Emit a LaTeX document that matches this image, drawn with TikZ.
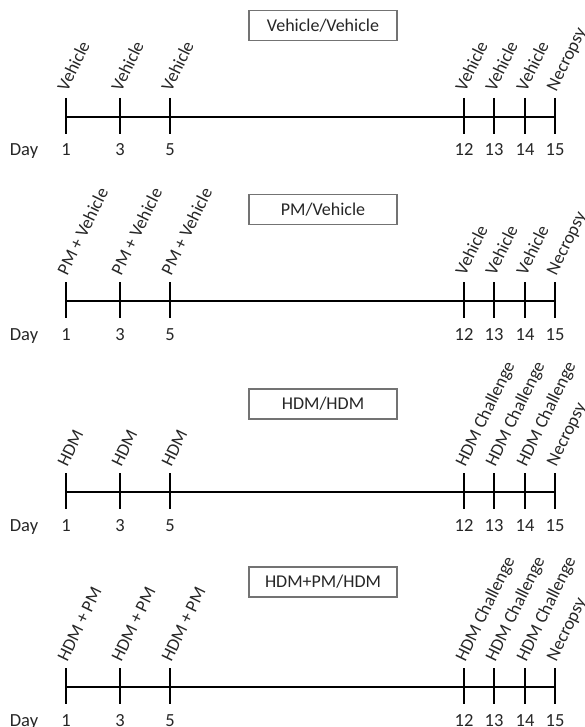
\documentclass[tikz,border=0pt]{standalone}
\usepackage{fontspec}
\setmainfont{Carlito}
\usetikzlibrary{positioning}

\begin{document}
\begin{tikzpicture}[x=1pt, y=-1pt, line width=1.6pt,
    event/.style={rotate=64, anchor=base west, inner sep=0pt, text=black!85, font=\fontsize{18}{20}\selectfont},
    daynum/.style={anchor=base, inner sep=0pt, text=black!85, font=\fontsize{18.5}{20}\selectfont},
    group/.style={draw=black!55, line width=1.3pt, fill=white, minimum width=148pt, minimum height=30pt, text=black!85, font=\fontsize{18}{20}\selectfont}]
\useasboundingbox (0,0) rectangle (585,727);

% Vehicle/Vehicle
\node[group] (box1) at (323,25.5) {Vehicle/Vehicle};
\node[daynum] (day1) at (24,156) {Day};
\foreach \x/\d/\txt in {66/1/Vehicle, 120/3/Vehicle, 170/5/Vehicle, 464/12/Vehicle, 494/13/Vehicle, 525/14/Vehicle, 555/15/Necropsy} {
  \coordinate (p1d\d) at (\x,117);
  \draw (\x,98) -- (\x,134);
  \node[event] (p1lab\d) at (\x+1,93) {\txt};
  \node[daynum] (p1num\d) at (\x,156) {\d};
}
\draw (p1d1) -- (p1d15);

% PM/Vehicle
\node[group] (box2) at (323,209.5) {PM/Vehicle};
\node[daynum] (day2) at (24,340) {Day};
\foreach \x/\d/\txt in {66/1/PM + Vehicle, 120/3/PM + Vehicle, 170/5/PM + Vehicle, 464/12/Vehicle, 494/13/Vehicle, 525/14/Vehicle, 555/15/Necropsy} {
  \coordinate (p2d\d) at (\x,301);
  \draw (\x,282) -- (\x,318);
  \node[event] (p2lab\d) at (\x+1,277) {\txt};
  \node[daynum] (p2num\d) at (\x,340) {\d};
}
\draw (p2d1) -- (p2d15);

% HDM/HDM
\node[group] (box3) at (323,404) {HDM/HDM};
\node[daynum] (day3) at (24,531) {Day};
\foreach \x/\d/\txt in {66/1/HDM, 120/3/HDM, 170/5/HDM, 464/12/HDM Challenge, 494/13/HDM Challenge, 525/14/HDM Challenge, 555/15/Necropsy} {
  \coordinate (p3d\d) at (\x,492);
  \draw (\x,473) -- (\x,509);
  \node[event] (p3lab\d) at (\x+1,468) {\txt};
  \node[daynum] (p3num\d) at (\x,531) {\d};
}
\draw (p3d1) -- (p3d15);

% HDM+PM/HDM
\node[group] (box4) at (323,582) {HDM+PM/HDM};
\node[daynum] (day4) at (24,726) {Day};
\foreach \x/\d/\txt in {66/1/HDM + PM, 120/3/HDM + PM, 170/5/HDM + PM, 464/12/HDM Challenge, 494/13/HDM Challenge, 525/14/HDM Challenge, 555/15/Necropsy} {
  \coordinate (p4d\d) at (\x,687);
  \draw (\x,668) -- (\x,704);
  \node[event] (p4lab\d) at (\x+1,663) {\txt};
  \node[daynum] (p4num\d) at (\x,726) {\d};
}
\draw (p4d1) -- (p4d15);
\end{tikzpicture}
\end{document}
